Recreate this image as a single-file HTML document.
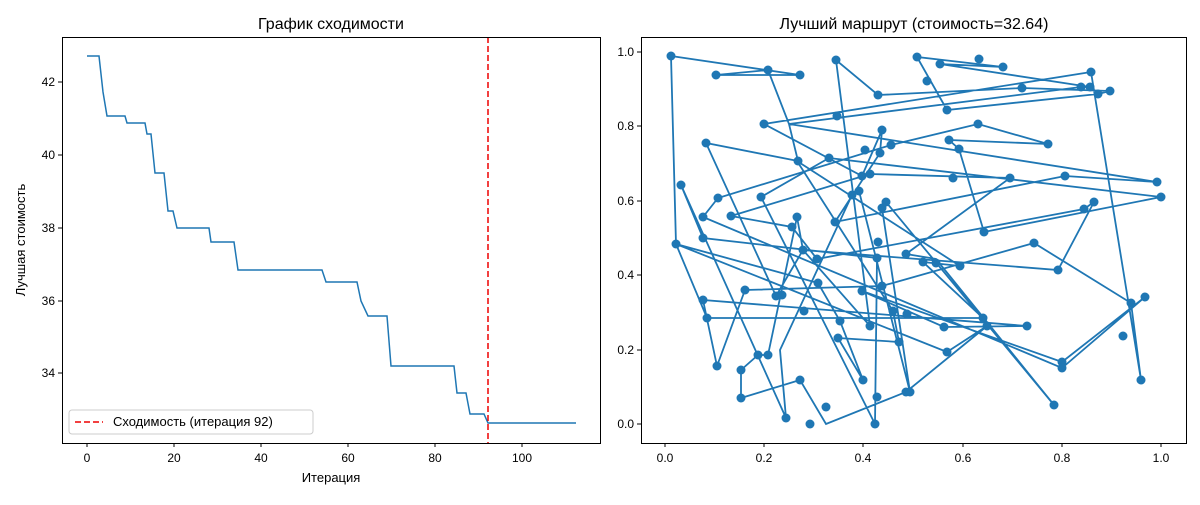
<!DOCTYPE html>
<html><head><meta charset="utf-8"><style>
body{margin:0;background:#fff;}
svg text{font-family:"Liberation Sans","DejaVu Sans",sans-serif;}
</style></head><body>
<svg width="1200" height="500" xmlns="http://www.w3.org/2000/svg">
<rect width="1200" height="500" fill="#fff"/>
<!-- Left plot -->
<text x="331" y="29" font-size="16" text-anchor="middle">График сходимости</text>
<g stroke="#000" stroke-width="1">
<line x1="87" y1="443" x2="87" y2="447"/><line x1="174" y1="443" x2="174" y2="447"/><line x1="261" y1="443" x2="261" y2="447"/><line x1="348" y1="443" x2="348" y2="447"/><line x1="435" y1="443" x2="435" y2="447"/><line x1="522" y1="443" x2="522" y2="447"/>
<line x1="58" y1="82" x2="62" y2="82"/><line x1="58" y1="155" x2="62" y2="155"/><line x1="58" y1="228" x2="62" y2="228"/><line x1="58" y1="301" x2="62" y2="301"/><line x1="58" y1="373" x2="62" y2="373"/>
</g>
<g font-size="12" text-anchor="middle">
<text x="87" y="462">0</text><text x="174" y="462">20</text><text x="261" y="462">40</text><text x="348" y="462">60</text><text x="435" y="462">80</text><text x="522" y="462">100</text>
</g>
<g font-size="12" text-anchor="end">
<text x="55" y="86">42</text><text x="55" y="159">40</text><text x="55" y="232">38</text><text x="55" y="305">36</text><text x="55" y="377">34</text>
</g>
<text x="331" y="482" font-size="13" text-anchor="middle">Итерация</text>
<text x="25" y="240" font-size="13" text-anchor="middle" transform="rotate(-90 25 240)">Лучшая стоимость</text>
<polyline fill="none" stroke="#1f77b4" stroke-width="1.5" points="87,56 99,56 103,92 107,116 125,116 127,123 145,123 147,134 151,134 155,173 164,173 168,211 173,211 177,228 209,228 211,242 234,242 238,270 322,270 326,282 357,282 361,301 368,316 387,316 391,366 454,366 457,393 466,393 470,414 484,414 488,423 576,423"/>
<line x1="488" y1="37" x2="488" y2="443" stroke="#e00" stroke-width="1.5" stroke-dasharray="6,3"/>
<rect x="62.5" y="37.5" width="538" height="406" fill="none" stroke="#000"/>
<rect x="69" y="410" width="244" height="24" fill="#fff" stroke="#ccc" rx="3"/>
<line x1="75" y1="422" x2="103" y2="422" stroke="#e00" stroke-width="1.5" stroke-dasharray="6,3"/>
<text x="113" y="426" font-size="13">Сходимость (итерация 92)</text>

<!-- Right plot -->
<text x="914" y="29" font-size="16" text-anchor="middle">Лучший маршрут (стоимость=32.64)</text>
<g stroke="#000" stroke-width="1">
<line x1="665" y1="443" x2="665" y2="447"/><line x1="764" y1="443" x2="764" y2="447"/><line x1="863" y1="443" x2="863" y2="447"/><line x1="963" y1="443" x2="963" y2="447"/><line x1="1062" y1="443" x2="1062" y2="447"/><line x1="1161" y1="443" x2="1161" y2="447"/>
<line x1="637" y1="52" x2="641" y2="52"/><line x1="637" y1="126" x2="641" y2="126"/><line x1="637" y1="201" x2="641" y2="201"/><line x1="637" y1="275" x2="641" y2="275"/><line x1="637" y1="350" x2="641" y2="350"/><line x1="637" y1="424" x2="641" y2="424"/>
</g>
<g font-size="12" text-anchor="middle">
<text x="665" y="462">0.0</text><text x="764" y="462">0.2</text><text x="863" y="462">0.4</text><text x="963" y="462">0.6</text><text x="1062" y="462">0.8</text><text x="1161" y="462">1.0</text>
</g>
<g font-size="12" text-anchor="end">
<text x="634" y="56">1.0</text><text x="634" y="130">0.8</text><text x="634" y="205">0.6</text><text x="634" y="279">0.4</text><text x="634" y="354">0.2</text><text x="634" y="428">0.0</text>
</g>
<g fill="none" stroke="#1f77b4" stroke-width="1.8" id="route">
<polyline points="671,56 800,75 716,75 768,70 789,124 798,161 706,143 776,296 803,250 870,326 836,60 878,95 1022,88 1110,91 1098,94 947,110 917,57 1003,67 940,64 1090,87 1081,87 789,124 1157,182 1065,176 835,222 880,153 882,130 862,176 764,124 1091,72 1141,380 1131,303 1034,243 882,286 745,290 717,366 703,300 1027,326 944,327 862,291 1062,362 1145,297 1062,368 703,217 718,198 891,145 978,124 1048,144 949,140 959,149 984,232 1161,197 829,158 761,197 875,424 877,258 703,238 681,185 786,418 780,350 852,195 859,191 910,392 882,208 886,202 1054,405 936,259 906,254 1010,178 870,174 731,216 792,227 817,259 1084,209 1094,202 1058,270 803,250 797,217 768,355 758,355 741,370 741,398 800,380 826,424 906,392 987,326 947,352 676,244 707,318 983,318 923,262 960,266 797,161 893,311 899,342 838,338 863,380 840,321 818,283 676,244 671,56"/>
</g>
<g fill="#1f77b4" id="pts">
<circle cx="671" cy="56" r="4.5"/><circle cx="716" cy="75" r="4.5"/><circle cx="768" cy="70" r="4.5"/><circle cx="800" cy="75" r="4.5"/><circle cx="836" cy="60" r="4.5"/><circle cx="917" cy="57" r="4.5"/><circle cx="940" cy="64" r="4.5"/><circle cx="979" cy="59" r="4.5"/><circle cx="1003" cy="67" r="4.5"/><circle cx="927" cy="81" r="4.5"/><circle cx="878" cy="95" r="4.5"/><circle cx="1081" cy="87" r="4.5"/><circle cx="1090" cy="87" r="4.5"/><circle cx="1091" cy="72" r="4.5"/><circle cx="1098" cy="94" r="4.5"/><circle cx="1110" cy="91" r="4.5"/><circle cx="1022" cy="88" r="4.5"/><circle cx="947" cy="110" r="4.5"/><circle cx="764" cy="124" r="4.5"/><circle cx="837" cy="116" r="4.5"/><circle cx="978" cy="124" r="4.5"/><circle cx="891" cy="145" r="4.5"/><circle cx="882" cy="130" r="4.5"/><circle cx="880" cy="153" r="4.5"/><circle cx="949" cy="140" r="4.5"/><circle cx="959" cy="149" r="4.5"/><circle cx="798" cy="161" r="4.5"/><circle cx="706" cy="143" r="4.5"/><circle cx="829" cy="158" r="4.5"/><circle cx="865" cy="150" r="4.5"/><circle cx="862" cy="176" r="4.5"/><circle cx="870" cy="174" r="4.5"/><circle cx="1048" cy="144" r="4.5"/><circle cx="882" cy="208" r="4.5"/><circle cx="886" cy="202" r="4.5"/><circle cx="859" cy="191" r="4.5"/><circle cx="852" cy="195" r="4.5"/><circle cx="953" cy="178" r="4.5"/><circle cx="1065" cy="176" r="4.5"/><circle cx="1157" cy="182" r="4.5"/><circle cx="984" cy="232" r="4.5"/><circle cx="1010" cy="178" r="4.5"/><circle cx="835" cy="222" r="4.5"/><circle cx="761" cy="197" r="4.5"/><circle cx="718" cy="198" r="4.5"/><circle cx="681" cy="185" r="4.5"/><circle cx="731" cy="216" r="4.5"/><circle cx="792" cy="227" r="4.5"/><circle cx="797" cy="217" r="4.5"/><circle cx="878" cy="242" r="4.5"/><circle cx="1084" cy="209" r="4.5"/><circle cx="1094" cy="202" r="4.5"/><circle cx="1161" cy="197" r="4.5"/><circle cx="703" cy="217" r="4.5"/><circle cx="703" cy="238" r="4.5"/><circle cx="676" cy="244" r="4.5"/><circle cx="817" cy="259" r="4.5"/><circle cx="1034" cy="243" r="4.5"/><circle cx="906" cy="254" r="4.5"/><circle cx="1058" cy="270" r="4.5"/><circle cx="877" cy="258" r="4.5"/><circle cx="818" cy="283" r="4.5"/><circle cx="882" cy="286" r="4.5"/><circle cx="745" cy="290" r="4.5"/><circle cx="703" cy="300" r="4.5"/><circle cx="707" cy="318" r="4.5"/><circle cx="936" cy="263" r="4.5"/><circle cx="1131" cy="303" r="4.5"/><circle cx="1145" cy="297" r="4.5"/><circle cx="1123" cy="336" r="4.5"/><circle cx="1027" cy="326" r="4.5"/><circle cx="907" cy="314" r="4.5"/><circle cx="944" cy="327" r="4.5"/><circle cx="983" cy="318" r="4.5"/><circle cx="987" cy="326" r="4.5"/><circle cx="947" cy="352" r="4.5"/><circle cx="782" cy="295" r="4.5"/><circle cx="804" cy="311" r="4.5"/><circle cx="862" cy="291" r="4.5"/><circle cx="893" cy="311" r="4.5"/><circle cx="717" cy="366" r="4.5"/><circle cx="776" cy="296" r="4.5"/><circle cx="768" cy="355" r="4.5"/><circle cx="758" cy="355" r="4.5"/><circle cx="741" cy="370" r="4.5"/><circle cx="741" cy="398" r="4.5"/><circle cx="800" cy="380" r="4.5"/><circle cx="1062" cy="362" r="4.5"/><circle cx="1062" cy="368" r="4.5"/><circle cx="906" cy="392" r="4.5"/><circle cx="877" cy="397" r="4.5"/><circle cx="1141" cy="380" r="4.5"/><circle cx="1054" cy="405" r="4.5"/><circle cx="786" cy="418" r="4.5"/><circle cx="826" cy="407" r="4.5"/><circle cx="810" cy="424" r="4.5"/><circle cx="899" cy="342" r="4.5"/><circle cx="870" cy="326" r="4.5"/><circle cx="838" cy="338" r="4.5"/><circle cx="863" cy="380" r="4.5"/><circle cx="840" cy="321" r="4.5"/><circle cx="803" cy="250" r="4.5"/><circle cx="923" cy="262" r="4.5"/><circle cx="960" cy="266" r="4.5"/><circle cx="875" cy="424" r="4.5"/><circle cx="910" cy="392" r="4.5"/>
</g>
<rect x="641.5" y="37.5" width="545" height="406" fill="none" stroke="#000"/>
</svg>
</body></html>
